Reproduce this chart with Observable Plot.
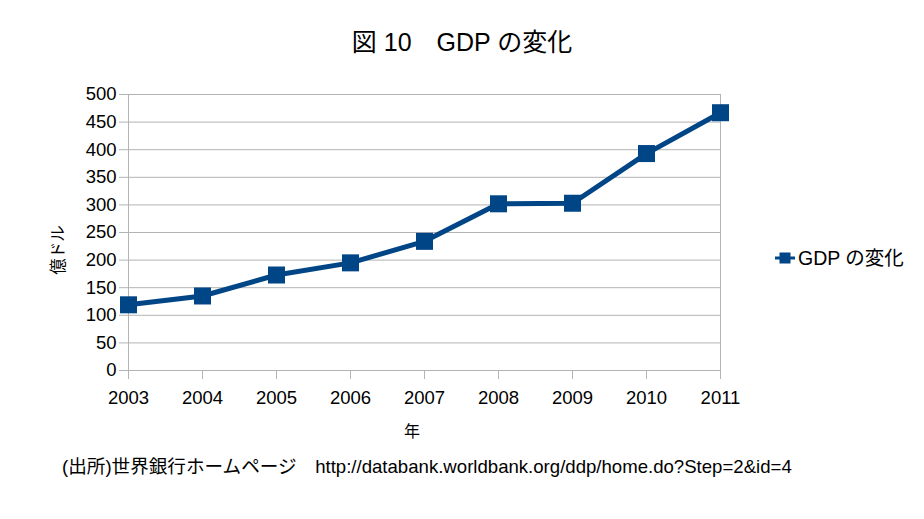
<!DOCTYPE html>
<html><head><meta charset="utf-8">
<script src="https://cdn.jsdelivr.net/npm/d3@7"></script>
<script src="https://cdn.jsdelivr.net/npm/@observablehq/plot@0.6"></script>
<style>
body{margin:0;background:#fff;font-family:"Liberation Sans","Noto Sans CJK JP",sans-serif;}
#wrap{position:relative;width:924px;height:519px;overflow:hidden;}
.abs{position:absolute;white-space:nowrap;color:#000;}
</style></head>
<body><div id="wrap"></div>
<script>
const years = [2003, 2004, 2005, 2006, 2007, 2008, 2009, 2010, 2011];
const gdp = [119, 135, 173, 195, 234, 302, 303, 393, 467];
const yTicks = [0, 50, 100, 150, 200, 250, 300, 350, 400, 450, 500];
const titleText = "図 10　GDP の変化";
const seriesName = "GDP の変化";
const yLabel = "億ドル";
const xLabel = "年";
const captionText = "(出所)世界銀行ホームページ　http://databank.worldbank.org/ddp/home.do?Step=2&id=4";
const lineColor = "#004586";
const gridColor = "#b3b3b3";

const data = years.map((y, i) => ({year: y, value: gdp[i]}));
const wrap = document.getElementById("wrap");

const chart = Plot.plot({
  width: 924, height: 365,
  marginLeft: 128, marginRight: 204, marginTop: 14, marginBottom: 75,
  style: {fontFamily: '"Liberation Sans","Noto Sans CJK JP",sans-serif', fontSize: "18.5px", color: "#000", background: "transparent", overflow: "visible"},
  x: {domain: [2003, 2011]},
  y: {domain: [0, 500]},
  marks: [
    Plot.gridY(yTicks, {stroke: gridColor, strokeOpacity: 1, strokeWidth: 1}),
    Plot.ruleX([2003, 2011], {stroke: gridColor, strokeWidth: 1}),
    Plot.axisY(yTicks, {tickSize: 9, tickPadding: 3, stroke: gridColor, fill: "#000", label: null, fontSize: 18.5}),
    Plot.axisX(years, {tickSize: 9, tickPadding: 11, stroke: gridColor, fill: "#000", label: null, tickFormat: d => String(d), fontSize: 18.5}),
    Plot.line(data, {x: "year", y: "value", stroke: lineColor, strokeWidth: 5}),
    Plot.dot(data, {x: "year", y: "value", symbol: "square", r: 9.6, fill: lineColor, stroke: "none"})
  ]
});
chart.style.position = "absolute";
chart.style.left = "0px";
chart.style.top = "80px";
wrap.appendChild(chart);

function addText(txt, css) {
  const d = document.createElement("div");
  d.className = "abs";
  d.textContent = txt;
  Object.assign(d.style, css);
  wrap.appendChild(d);
  return d;
}
// title
addText(titleText, {left: "0px", width: "924px", textAlign: "center", top: "26px", fontSize: "25px", lineHeight: "32px", fontWeight: "normal"});
// y label rotated
addText(yLabel, {left: "58px", top: "250px", fontSize: "16.5px", transform: "translate(-50%,-50%) rotate(-90deg)", lineHeight: "18px"});
// x label
addText(xLabel, {left: "412px", top: "432px", fontSize: "16px", transform: "translate(-50%,-50%)", lineHeight: "18px"});
// caption
addText(captionText, {left: "62px", top: "455px", fontSize: "18.6px", lineHeight: "24px"});
// legend
const leg = document.createElement("div");
leg.className = "abs";
Object.assign(leg.style, {left: "774px", top: "246px", fontSize: "19.5px", lineHeight: "24px", display: "flex", alignItems: "center"});
leg.innerHTML = `<svg width="22" height="22" style="margin-right:2px"><line x1="1" x2="21" y1="11" y2="11" stroke="${lineColor}" stroke-width="3"/><rect x="5.5" y="5.5" width="11" height="11" fill="${lineColor}"/></svg><span>${seriesName}</span>`;
wrap.appendChild(leg);
</script></body></html>
